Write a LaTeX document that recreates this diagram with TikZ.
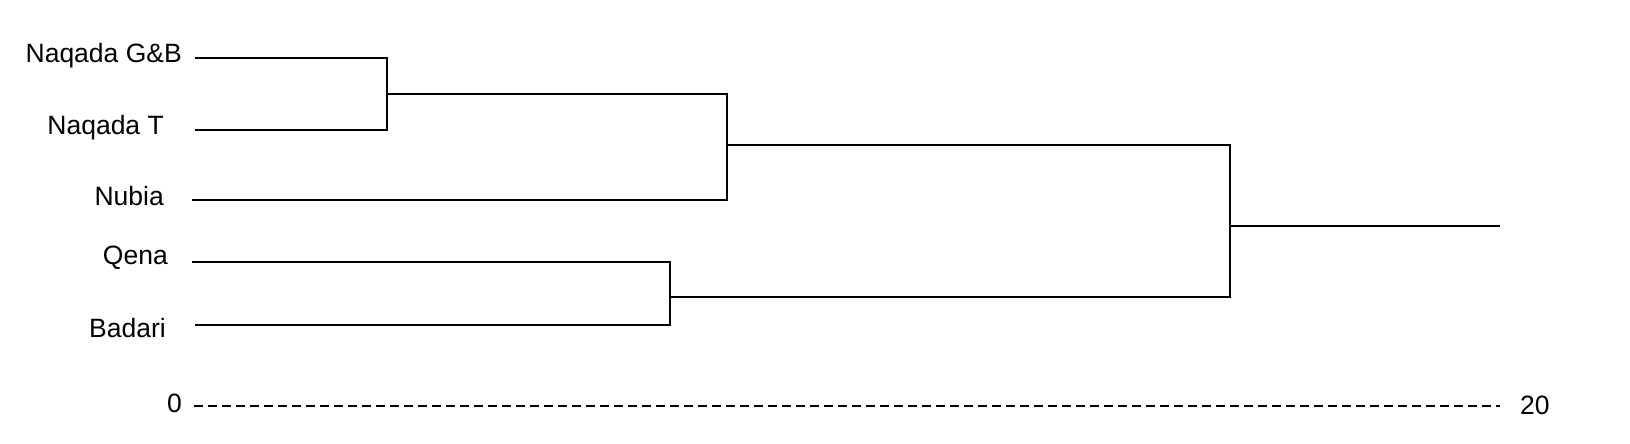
\documentclass[tikz,border=0pt]{standalone}
\usepackage{fontspec}
\setmainfont{Liberation Sans}
\begin{document}
\begin{tikzpicture}[x=1pt,y=-1pt,
  lbl/.style={anchor=east,font=\fontsize{26.5}{30}\selectfont,inner sep=0pt},
  br/.style={line width=1.6pt}]
\useasboundingbox (0,0) rectangle (1630,444);
\node[lbl] (gb) at (182,56) {Naqada G\&B};
\node[lbl] (nt) at (164,128) {Naqada T};
\node[lbl] (nu) at (164,196) {Nubia};
\node[lbl] (qe) at (168,258) {Qena};
\node[lbl] (ba) at (166,328) {Badari};
\node[lbl] (z) at (182,403) {0};
\node[lbl,anchor=west] (tw) at (1520,405) {20};
\coordinate (a1) at (387,58); \coordinate (a2) at (387,130);
\coordinate (b1) at (727,94); \coordinate (b2) at (727,200);
\coordinate (c1) at (670,262); \coordinate (c2) at (670,325);
\coordinate (r1) at (1230,145); \coordinate (r2) at (1230,297);
\coordinate (root) at (1500,226);
\draw[br] (195,58) -- (a1) -- (a2) -- (195,130);
\draw[br] (387,94) -- (b1) -- (b2) -- (192,200);
\draw[br] (192,262) -- (c1) -- (c2) -- (195,325);
\draw[br] (727,145) -- (r1) -- (r2) -- (670,297);
\draw[br] (1230,226) -- (root);
\draw[line width=1.6pt,dash pattern=on 9pt off 5pt] (194,406) -- (1500,406);
\end{tikzpicture}
\end{document}
